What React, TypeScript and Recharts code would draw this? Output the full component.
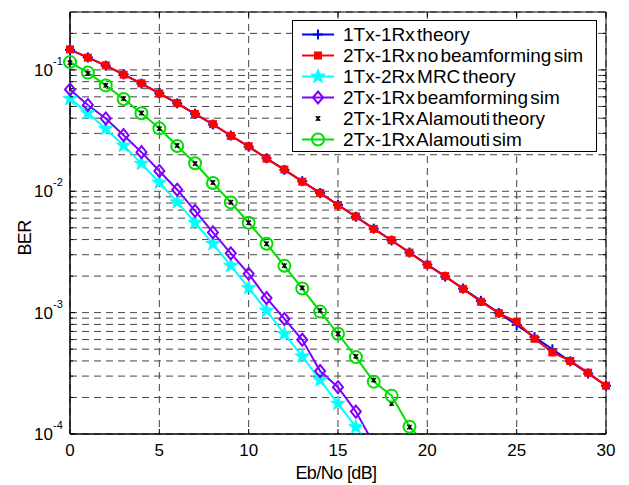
import React from "react";
import {
  LineChart,
  Line,
  XAxis,
  YAxis,
  CartesianGrid,
  Legend,
  ReferenceArea,
} from "recharts";

const FONT = '"Liberation Sans", Arial, Helvetica, sans-serif';

// Eb/No in dB
const snrDb = [
  0, 1, 2, 3, 4, 5, 6, 7, 8, 9, 10, 11, 12, 13, 14, 15, 16, 17, 18, 19, 20,
  21, 22, 23, 24, 25, 26, 27, 28, 29, 30,
];

const theory1x1 = [
  0.1464, 0.1267, 0.1085, 0.0919, 0.0771, 0.0642, 0.053, 0.0435, 0.0355,
  0.0288, 0.0233, 0.0187, 0.015, 0.0121, 0.00966, 0.00773, 0.00617, 0.00492,
  0.00393, 0.00313, 0.00249, 0.00198, 0.00158, 0.00125, 0.000995, 0.000791,
  0.000628, 0.000499, 0.000397, 0.000315, 0.00025,
];

const simNoBeamforming = [
  0.1475, 0.1262, 0.109, 0.0915, 0.0775, 0.064, 0.0532, 0.0433, 0.0357,
  0.0286, 0.0235, 0.0186, 0.0151, 0.012, 0.0097, 0.0077, 0.0062, 0.0049,
  0.00395, 0.00312, 0.00248, 0.002, 0.00157, 0.00123, 0.00099, 0.00084,
  0.00061, 0.00047, 0.0004, 0.00032, 0.00025,
];

const theoryMrc = [
  0.058, 0.0441, 0.0328, 0.0238, 0.0169, 0.0118, 0.00813, 0.00551, 0.00369,
  0.00244, 0.0016, 0.00104, 0.000668, 0.000436, 0.000278, 0.000178, 0.000114,
  0.000073, null, null, null, null, null, null, null, null, null, null, null,
  null, null,
];

const simBeamforming = [
  0.069, 0.0514, 0.0398, 0.029, 0.021, 0.0147, 0.0103, 0.0069, 0.00458,
  0.00308, 0.00209, 0.00132, 0.000887, 0.000598, 0.00033, 0.000243, 0.000153,
  0.000083, null, null, null, null, null, null, null, null, null, null, null,
  null, null,
];

const theoryAlamouti = [
  0.1149, 0.0937, 0.0746, 0.058, 0.0441, 0.0328, 0.0238, 0.0169, 0.0118,
  0.00813, 0.00551, 0.00369, 0.00244, 0.0016, 0.00104, 0.000668, 0.000436,
  0.000278, 0.000178, 0.000114, 0.000073, null, null, null, null, null, null,
  null, null, null, null,
];

const simAlamouti = [
  0.116, 0.095, 0.0745, 0.0575, 0.044, 0.033, 0.0236, 0.017, 0.0117, 0.0081,
  0.0055, 0.0037, 0.00243, 0.00158, 0.00102, 0.00067, 0.00043, 0.00027,
  0.000207, 0.000115, 0.00008, null, null, null, null, null, null, null, null,
  null, null,
];

const xTicks = [0, 5, 10, 15, 20, 25, 30];

const yTicks = [
  0.0001, 0.0002, 0.0003, 0.0004, 0.0005, 0.0006, 0.0007, 0.0008, 0.0009,
  0.001, 0.002, 0.003, 0.004, 0.005, 0.006, 0.007, 0.008, 0.009, 0.01, 0.02,
  0.03, 0.04, 0.05, 0.06, 0.07, 0.08, 0.09, 0.1, 0.2,
];

type MarkerKind = "plus" | "square" | "star" | "diamond" | "cross" | "circle";

const series: {
  key: string;
  name: string;
  color: string;
  marker: MarkerKind;
  line: boolean;
  values: (number | null)[];
}[] = [
  { key: "t11", name: "1Tx-1Rx theory", color: "#0000ff", marker: "plus", line: true, values: theory1x1 },
  { key: "nbf", name: "2Tx-1Rx no beamforming sim", color: "#ff0000", marker: "square", line: true, values: simNoBeamforming },
  { key: "mrc", name: "1Tx-2Rx MRC theory", color: "#00ffff", marker: "star", line: true, values: theoryMrc },
  { key: "bf", name: "2Tx-1Rx beamforming sim", color: "#7f00ff", marker: "diamond", line: true, values: simBeamforming },
  { key: "ala", name: "2Tx-1Rx Alamouti theory", color: "#000000", marker: "cross", line: false, values: theoryAlamouti },
  { key: "alas", name: "2Tx-1Rx Alamouti sim", color: "#00e000", marker: "circle", line: true, values: simAlamouti },
];

const data = snrDb.map((s, i) => {
  const row: Record<string, number | null> = { snr: s };
  series.forEach((sr) => {
    row[sr.key] = sr.values[i];
  });
  return row;
});

function starPoints(cx: number, cy: number, R: number, r: number) {
  const pts: string[] = [];
  for (let k = 0; k < 10; k++) {
    const a = -Math.PI / 2 + (k * Math.PI) / 5;
    const rad = k % 2 === 0 ? R : r;
    pts.push(`${cx + rad * Math.cos(a)},${cy + rad * Math.sin(a)}`);
  }
  return pts.join(" ");
}

function Marker({ kind, cx, cy, color }: { kind: MarkerKind; cx: number; cy: number; color: string }) {
  switch (kind) {
    case "plus":
      return (
        <g stroke={color} strokeWidth={2}>
          <line x1={cx - 5} y1={cy} x2={cx + 5} y2={cy} />
          <line x1={cx} y1={cy - 5} x2={cx} y2={cy + 5} />
        </g>
      );
    case "square":
      return <rect x={cx - 3.5} y={cy - 3.5} width={7} height={7} fill={color} stroke={color} strokeWidth={1} />;
    case "star":
      return <polygon points={starPoints(cx, cy, 7.5, 3)} fill={color} stroke={color} strokeWidth={1} />;
    case "diamond":
      return (
        <polygon
          points={`${cx},${cy - 6} ${cx + 5},${cy} ${cx},${cy + 6} ${cx - 5},${cy}`}
          fill="none"
          stroke={color}
          strokeWidth={2}
        />
      );
    case "cross":
      return (
        <g stroke={color} strokeWidth={1.4}>
          <line x1={cx - 2.2} y1={cy - 2.2} x2={cx + 2.2} y2={cy + 2.2} />
          <line x1={cx - 2.2} y1={cy + 2.2} x2={cx + 2.2} y2={cy - 2.2} />
          <line x1={cx} y1={cy - 2.5} x2={cx} y2={cy + 2.5} />
        </g>
      );
    case "circle":
      return <circle cx={cx} cy={cy} r={6} fill="none" stroke={color} strokeWidth={2} />;
  }
}

function makeDot(kind: MarkerKind, color: string) {
  return (props: any) => {
    const { cx, cy, index, value } = props;
    if (value == null || cx == null || cy == null || isNaN(cx) || isNaN(cy)) {
      return <g key={`d-${index}`} />;
    }
    return (
      <g key={`d-${index}`}>
        <Marker kind={kind} cx={cx} cy={cy} color={color} />
      </g>
    );
  };
}

function YTick(props: any) {
  const { x, y, payload } = props;
  const v = payload.value as number;
  const lg = Math.log10(v);
  const e = Math.round(lg);
  const isDecade = Math.abs(lg - e) < 1e-9;
  return (
    <g>
      <line x1={x} y1={y} x2={x + (isDecade ? 5 : 3)} y2={y} stroke="#000" />
      <line x1={606} y1={y} x2={606 - (isDecade ? 5 : 3)} y2={y} stroke="#000" />
      {isDecade && (
        <>
          <text x={x - 17} y={y + 6} textAnchor="end" fontSize={17} fontFamily={FONT} fill="#000">
            10
          </text>
          <text x={x - 17} y={y - 5} textAnchor="start" fontSize={11} fontFamily={FONT} fill="#000">
            {e}
          </text>
        </>
      )}
    </g>
  );
}

function XTick(props: any) {
  const { x, y, payload } = props;
  return (
    <g>
      <line x1={x} y1={434} x2={x} y2={429} stroke="#000" />
      <line x1={x} y1={12} x2={x} y2={17} stroke="#000" />
      <text x={x} y={y + 22} textAnchor="middle" fontSize={17} fontFamily={FONT} fill="#000">
        {payload.value}
      </text>
    </g>
  );
}

function LegendBox() {
  return (
    <div
      style={{
        boxSizing: "border-box",
        width: 305,
        height: 132,
        border: "1.5px solid #000",
        background: "#fff",
        paddingTop: 3,
        fontFamily: FONT,
        fontSize: 19,
        letterSpacing: 0,
        wordSpacing: -3,
        color: "#000",
      }}
    >
      {series.map((s) => (
        <div key={s.key} style={{ display: "flex", alignItems: "center", height: 21 }}>
          <svg width={50} height={21} style={{ flex: "none" }}>
            {s.line && <line x1={9} y1={10.5} x2={41} y2={10.5} stroke={s.color} strokeWidth={2} />}
            <Marker kind={s.marker} cx={25} cy={10.5} color={s.color} />
          </svg>
          <span style={{ whiteSpace: "nowrap", lineHeight: "21px" }}>{s.name}</span>
        </div>
      ))}
    </div>
  );
}

export default function App() {
  return (
    <div style={{ position: "absolute", left: 0, top: 0, width: 629, height: 485, background: "#fff" }}>
      <LineChart width={629} height={485} data={data} margin={{ top: 12, right: 23, bottom: 0, left: 0 }}>
        <CartesianGrid stroke="#444" strokeDasharray="7 5" strokeWidth={1} />
        <XAxis
          dataKey="snr"
          type="number"
          domain={[0, 30]}
          ticks={xTicks}
          height={51}
          tickSize={0}
          tickMargin={0}
          tickLine={false}
          axisLine={{ stroke: "#000" }}
          tick={<XTick />}
          interval={0}
          label={{
            content: () => (
              <text x={336} y={479} textAnchor="middle" fontSize={18} fontFamily={FONT} fill="#000" letterSpacing={-0.6}>
                Eb/No [dB]
              </text>
            ),
          }}
        />
        <YAxis
          scale="log"
          type="number"
          domain={[0.0001, 0.3]}
          allowDataOverflow
          ticks={yTicks}
          width={70}
          tickSize={0}
          tickMargin={0}
          tickLine={false}
          axisLine={{ stroke: "#000" }}
          tick={<YTick />}
          interval={0}
          label={{
            content: () => (
              <text
                x={31}
                y={238}
                transform="rotate(-90 31 238)"
                textAnchor="middle"
                fontSize={18}
                fontFamily={FONT}
                fill="#000"
                letterSpacing={-0.6}
              >
                BER
              </text>
            ),
          }}
        />
        {series.map((s) => (
          <Line
            key={s.key}
            dataKey={s.key}
            name={s.name}
            type="linear"
            stroke={s.line ? s.color : "none"}
            strokeWidth={2}
            dot={makeDot(s.marker, s.color)}
            activeDot={false}
            isAnimationActive={false}
            connectNulls={false}
          />
        ))}
        <ReferenceArea x1={0} x2={30} y1={0.0001} y2={0.3} fill="none" stroke="#000" strokeWidth={1} ifOverflow="visible" />
        <Legend
          layout="vertical"
          align="center"
          verticalAlign="middle"
          content={() => <LegendBox />}
          wrapperStyle={{ left: 292, top: 20, width: 305, height: 132 }}
        />
      </LineChart>
    </div>
  );
}
